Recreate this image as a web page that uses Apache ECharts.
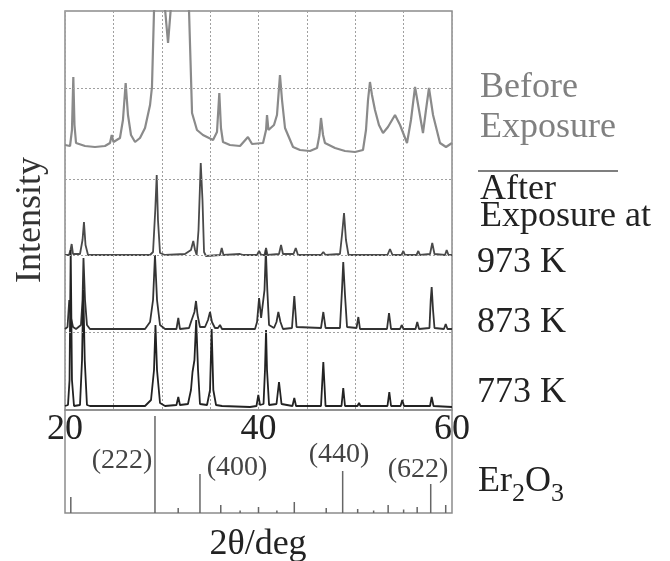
<!DOCTYPE html>
<html>
<head>
<meta charset="utf-8">
<title>XRD Er2O3</title>
<script src="https://cdn.jsdelivr.net/npm/echarts@6/dist/echarts.min.js"></script>
<style>
  html, body { margin: 0; padding: 0; background: #fff; }
  #main { width: 670px; height: 561px; }
</style>
</head>
<body>
<div id="main"></div>
<script>
/*
 * 数据: 2θ (deg) 与 强度 (任意单位, 已含各曲线的偏移)
 */
var beforeData = [
  [20.00, 265], [20.52, 264], [20.72, 280], [20.86, 333], [20.98, 285], [21.14, 267],
  [22.07, 264], [23.10, 263], [24.13, 264], [24.65, 267], [24.83, 275], [25.01, 268],
  [25.68, 272], [25.99, 290], [26.27, 327], [26.51, 295], [26.82, 275], [27.24, 268],
  [27.75, 272], [28.27, 282], [28.79, 305], [28.99, 323], [29.20, 399], [29.8, 460],
  [30.65, 367], [31.5, 470], [32.82, 399], [32.97, 350], [33.13, 297], [33.64, 280],
  [34.26, 275], [35.30, 270], [35.71, 278], [35.95, 317], [36.12, 282], [36.33, 268],
  [37.05, 265], [38.09, 264], [38.91, 273], [39.33, 266], [40.47, 267], [40.78, 280],
  [40.88, 295], [41.03, 280], [41.19, 278], [41.60, 285], [41.91, 295], [42.22, 335],
  [42.43, 310], [42.74, 282], [43.57, 263], [44.29, 260], [45.32, 259], [46.05, 262],
  [46.30, 275], [46.46, 292], [46.67, 275], [46.87, 267], [47.91, 262], [48.94, 259],
  [49.97, 258], [50.80, 260], [51.11, 280], [51.32, 310], [51.52, 328], [51.73, 315],
  [52.04, 300], [52.45, 285], [52.87, 277], [53.38, 283], [54.11, 295], [54.63, 285],
  [55.35, 267], [55.76, 290], [56.18, 323], [56.59, 300], [57.00, 277], [57.31, 300],
  [57.62, 322], [58.04, 295], [58.76, 267], [59.38, 263], [60.00, 267]
];

var k973Data = [
  [20.00, 155], [20.41, 155], [20.57, 160], [20.69, 166], [20.83, 156], [21.55, 156],
  [21.81, 170], [21.96, 188], [22.12, 165], [22.38, 155], [28.79, 155], [29.10, 158],
  [29.33, 200], [29.48, 235], [29.61, 190], [29.82, 157], [30.34, 155], [32.40, 156],
  [33.02, 160], [33.26, 169], [33.44, 160], [33.61, 155], [33.80, 180], [34.03, 247],
  [34.21, 210], [34.37, 158], [34.57, 154], [36.02, 155], [36.20, 162], [36.38, 155],
  [38.09, 156], [38.26, 158], [38.45, 155], [39.85, 155], [40.06, 159], [40.27, 155],
  [40.62, 155], [40.78, 162], [40.93, 155], [42.12, 156], [42.33, 165], [42.53, 156],
  [43.62, 156], [43.85, 162], [44.08, 155], [46.46, 155], [46.70, 158], [46.93, 155],
  [48.42, 156], [48.63, 175], [48.84, 197], [49.04, 170], [49.30, 155], [53.33, 155],
  [53.59, 161], [53.85, 155], [54.78, 155], [54.97, 159], [55.14, 155], [56.33, 155],
  [56.52, 159], [56.69, 155], [57.73, 156], [57.96, 167], [58.19, 156], [59.28, 155],
  [59.45, 160], [59.64, 155], [60.00, 155]
];

var k873Data = [
  [20.00, 81], [20.26, 83], [20.44, 110], [20.62, 92], [20.83, 83], [21.14, 81],
  [21.65, 85], [21.81, 110], [21.91, 152], [22.07, 110], [22.27, 85], [22.58, 81],
  [28.27, 81], [28.79, 88], [29.10, 110], [29.30, 155], [29.51, 110], [29.82, 85],
  [30.34, 81], [31.52, 81], [31.71, 92], [31.88, 81], [32.82, 82], [33.02, 88],
  [33.20, 93], [33.38, 98], [33.54, 109], [33.70, 95], [33.95, 83], [34.47, 83],
  [34.78, 90], [34.99, 98], [35.19, 88], [35.50, 82], [35.81, 82], [36.02, 85],
  [36.23, 81], [39.64, 81], [39.85, 88], [40.06, 112], [40.27, 92], [40.47, 90],
  [40.62, 120], [40.76, 160], [40.91, 120], [41.09, 85], [41.60, 82], [41.86, 88],
  [42.05, 98], [42.27, 88], [42.53, 81], [43.46, 82], [43.70, 114], [43.93, 83],
  [46.46, 82], [46.70, 98], [46.93, 82], [48.42, 82], [48.63, 120], [48.76, 148],
  [48.94, 115], [49.15, 83], [50.13, 82], [50.32, 93], [50.49, 81], [53.28, 81],
  [53.49, 97], [53.70, 81], [54.63, 81], [54.80, 85], [54.99, 81], [56.23, 81],
  [56.41, 88], [56.59, 81], [57.67, 82], [57.80, 110], [57.90, 123], [58.04, 100],
  [58.19, 82], [59.17, 81], [59.35, 86], [59.53, 81], [60.00, 81]
];

var k773Data = [
  [20.00, 4], [20.31, 5], [20.47, 30], [20.59, 160], [20.72, 30], [20.93, 4],
  [21.55, 5], [21.76, 50], [21.89, 120], [22.04, 50], [22.27, 5], [22.58, 4],
  [28.27, 4], [28.89, 10], [29.20, 40], [29.35, 85], [29.51, 40], [29.82, 7],
  [30.34, 4], [31.52, 5], [31.71, 13], [31.88, 5], [32.71, 6], [33.02, 20],
  [33.18, 38], [33.38, 50], [33.56, 90], [33.75, 40], [33.95, 6], [34.68, 5],
  [34.99, 20], [35.16, 81], [35.33, 20], [35.61, 5], [36.23, 4], [39.12, 3],
  [39.79, 4], [39.98, 15], [40.16, 5], [40.52, 6], [40.67, 40], [40.78, 80],
  [40.88, 40], [41.09, 5], [41.86, 6], [42.12, 28], [42.38, 6], [43.51, 4],
  [43.70, 12], [43.88, 4], [46.46, 4], [46.70, 48], [46.93, 4], [48.58, 4],
  [48.76, 22], [48.94, 4], [50.23, 4], [50.39, 7], [50.54, 4], [53.33, 4],
  [53.52, 18], [53.70, 4], [54.68, 4], [54.86, 10], [55.04, 4], [57.73, 4],
  [57.90, 13], [58.09, 4], [60.00, 3]
];

// Er2O3 标准衍射线 (2θ, 相对高度)
var refPos = [20.6, 29.3, 31.7, 33.95, 36.1, 38.1, 40.0, 41.9, 43.7, 47.0, 48.7, 50.25, 51.9, 53.4, 55.0, 56.4, 57.8, 59.35];
var refHeight = [16, 97, 5, 39, 8, 2.5, 6, 2.5, 11, 5, 42, 4, 2.5, 8, 3.5, 6, 29, 8];
var refLabels = ['(222)', '(400)', '(440)', '(622)'];

// 水平虚线所在强度
var gridLevels = [78, 155, 231, 322];
var xLabels = [20, 40, 60];

var serif = '"Liberation Serif", "DejaVu Serif", serif';

var refData = refPos.map(function (p, i) { return [p, refHeight[i]]; });

function txt(s, x, y, size, color, align) {
  return {
    type: 'text', x: x, y: y, silent: true,
    style: {
      text: s, font: size + 'px ' + serif, fill: color,
      textAlign: align || 'left', textVerticalAlign: 'middle'
    }
  };
}

var chart = echarts.init(document.getElementById('main'));
var option = {
  animation: false,
  grid: [
    { left: 65, top: 11, width: 387, height: 399, show: true, borderColor: '#8c8c8c', borderWidth: 1.5 },
    { left: 65, top: 410, width: 387, height: 103, show: true, borderColor: '#8c8c8c', borderWidth: 1.5 }
  ],
  xAxis: [{
    type: 'value', gridIndex: 0, min: 20, max: 60, interval: 5,
    axisLine: { show: false }, axisTick: { show: false },
    splitLine: { show: true, lineStyle: { type: [2, 2], color: '#a0a0a0', width: 1 } },
    axisLabel: {
      margin: 2, fontFamily: serif, fontSize: 36, color: '#222',
      formatter: function (v) { return xLabels.indexOf(v) >= 0 ? String(v) : ''; }
    }
  }, {
    type: 'value', gridIndex: 1, min: 20, max: 60,
    axisLine: { show: false }, axisTick: { show: false },
    splitLine: { show: false }, axisLabel: { show: false }
  }],
  yAxis: [{
    type: 'value', gridIndex: 0, min: 0, max: 399,
    axisLine: { show: false }, axisTick: { show: false },
    splitLine: { show: false }, axisLabel: { show: false }
  }, {
    type: 'value', gridIndex: 1, min: 0, max: 103,
    axisLine: { show: false }, axisTick: { show: false },
    splitLine: { show: false }, axisLabel: { show: false }
  }],
  series: [{
    name: 'Before Exposure', type: 'line', xAxisIndex: 0, yAxisIndex: 0,
    data: beforeData, showSymbol: false, clip: true,
    lineStyle: { color: '#8a8a8a', width: 2.2 },
    markLine: {
      silent: true, symbol: ['none', 'none'], label: { show: false },
      lineStyle: { type: [2, 2], color: '#a0a0a0', width: 1 },
      data: gridLevels.map(function (v) { return { yAxis: v }; })
    }
  }, {
    name: '973 K', type: 'line', xAxisIndex: 0, yAxisIndex: 0,
    data: k973Data, showSymbol: false, lineStyle: { color: '#4a4a4a', width: 1.8 }
  }, {
    name: '873 K', type: 'line', xAxisIndex: 0, yAxisIndex: 0,
    data: k873Data, showSymbol: false, lineStyle: { color: '#333', width: 1.8 }
  }, {
    name: '773 K', type: 'line', xAxisIndex: 0, yAxisIndex: 0,
    data: k773Data, showSymbol: false, lineStyle: { color: '#222', width: 1.8 }
  }, {
    name: 'Er2O3', type: 'bar', xAxisIndex: 1, yAxisIndex: 1,
    data: refData, barWidth: 1.5, itemStyle: { color: '#666' }
  }],
  graphic: [
    {
      type: 'text', x: 31, y: 220, rotation: Math.PI / 2, silent: true,
      style: { text: 'Intensity', font: '36px ' + serif, fill: '#333', textAlign: 'center', textVerticalAlign: 'middle' }
    },
    txt('Before', 480, 88, 36, '#808080'),
    txt('Exposure', 480, 128, 36, '#808080'),
    { type: 'line', silent: true, shape: { x1: 478, y1: 171, x2: 618, y2: 171 }, style: { stroke: '#555', lineWidth: 1.5 } },
    txt('After', 480, 190, 36, '#222'),
    txt('Exposure at', 480, 217, 36, '#222'),
    txt('973 K', 477, 263, 36, '#222'),
    txt('873 K', 477, 323, 36, '#222'),
    txt('773 K', 477, 393, 36, '#222'),
    txt(refLabels[0], 122, 461, 28, '#444', 'center'),
    txt(refLabels[1], 237, 468, 28, '#444', 'center'),
    txt(refLabels[2], 339, 455, 28, '#444', 'center'),
    txt(refLabels[3], 418, 470, 28, '#444', 'center'),
    txt('Er', 478, 482, 36, '#222'),
    txt('2', 512, 494, 26, '#222'),
    txt('O', 525, 482, 36, '#222'),
    txt('3', 551, 494, 26, '#222'),
    txt('2θ/deg', 258, 545, 36, '#222', 'center')
  ]
};
chart.setOption(option);
</script>
</body>
</html>
